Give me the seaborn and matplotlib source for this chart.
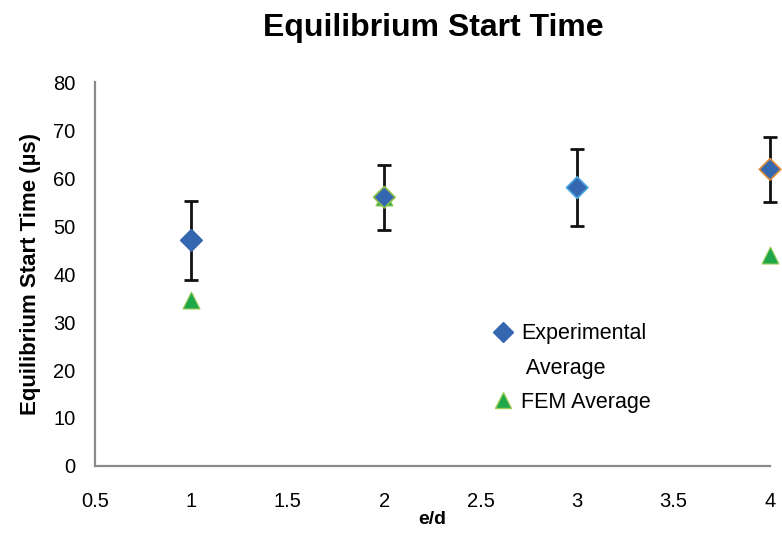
import matplotlib
matplotlib.use("Agg")
import matplotlib.pyplot as plt
from matplotlib.lines import Line2D
import seaborn as sns
import pandas as pd

# Measured equilibrium start times (microseconds) versus e/d
ed_ratio = [1, 2, 3, 4]
exp_mean = [47.0, 56.0, 58.0, 61.8]
exp_err = [8.2, 6.8, 8.0, 6.7]

# Finite element predictions
fem_ratio = [1, 2, 4]
fem_mean = [34.5, 56.0, 44.0]

x_ticks = [0.5, 1, 1.5, 2, 2.5, 3, 3.5, 4]
x_tick_labels = ["0.5", "1", "1.5", "2", "2.5", "3", "3.5", "4"]
y_ticks = [0, 10, 20, 30, 40, 50, 60, 70, 80]

exp_df = pd.DataFrame({"e/d": ed_ratio, "time": exp_mean})
fem_df = pd.DataFrame({"e/d": fem_ratio, "time": fem_mean})

sns.set_style("white")
plt.rcParams["font.family"] = ["Liberation Sans", "DejaVu Sans"]
plt.rcParams["text.color"] = "black"
plt.rcParams["axes.labelcolor"] = "black"

blue = "#3467b0"
green = "#1ea84a"
diamond_edges = ["#3467b0", "#8cc04a", "#4aa6de", "#e08a3c"]
axis_grey = "#8a8a8a"

fig = plt.figure(figsize=(7.82, 5.36), dpi=100)
ax = fig.add_axes([0.1215, 0.1306, 0.8632, 0.7164])

sns.scatterplot(data=fem_df, x="e/d", y="time", marker="^", s=150,
                color=green, edgecolor="#9ccc5a", linewidth=0.8,
                ax=ax, zorder=3, clip_on=False, legend=False)

ax.errorbar(ed_ratio, exp_mean, yerr=exp_err, fmt="none", ecolor="#111111",
            elinewidth=2.0, capsize=5, capthick=2.0, zorder=4, clip_on=False)

sns.scatterplot(data=exp_df, x="e/d", y="time", marker="D", s=120,
                color=blue, edgecolor=diamond_edges, linewidth=1.2,
                ax=ax, zorder=5, clip_on=False, legend=False)

ax.set_xlim(0.5, 4)
ax.set_ylim(0, 80)
ax.set_xticks(x_ticks)
ax.set_xticklabels(x_tick_labels)
ax.set_yticks(y_ticks)

for side in ["top", "right"]:
    ax.spines[side].set_visible(False)
for side in ["left", "bottom"]:
    ax.spines[side].set_color(axis_grey)
    ax.spines[side].set_linewidth(1.6)

ax.tick_params(axis="both", which="major", direction="out", length=6,
               width=1.6, color=axis_grey, labelsize=14.5, labelcolor="black")
ax.tick_params(axis="y", pad=8)
ax.tick_params(axis="x", pad=13)

ax.set_xlabel("e/d", fontsize=14, fontweight="bold", labelpad=0)
ax.set_ylabel("Equilibrium Start Time (\u00b5s)", fontsize=16,
              fontweight="bold", labelpad=9)
fig.suptitle("Equilibrium Start Time", x=0.554, y=0.948, va="center",
             fontsize=23, fontweight="bold")

handles = [
    Line2D([], [], marker="D", linestyle="none", markersize=10,
           markerfacecolor=blue, markeredgecolor=blue),
    Line2D([], [], linestyle="none"),
    Line2D([], [], marker="^", linestyle="none", markersize=12,
           markerfacecolor=green, markeredgecolor="#9ccc5a"),
]
labels = ["Experimental", " Average", "FEM Average"]
ax.legend(handles, labels, loc="center left", bbox_to_anchor=(0.591, 0.255),
          frameon=False, fontsize=15.5, handlelength=0.8, handletextpad=0.45,
          labelspacing=0.62, borderaxespad=0, borderpad=0)

fig.savefig("out.png", dpi=100)
